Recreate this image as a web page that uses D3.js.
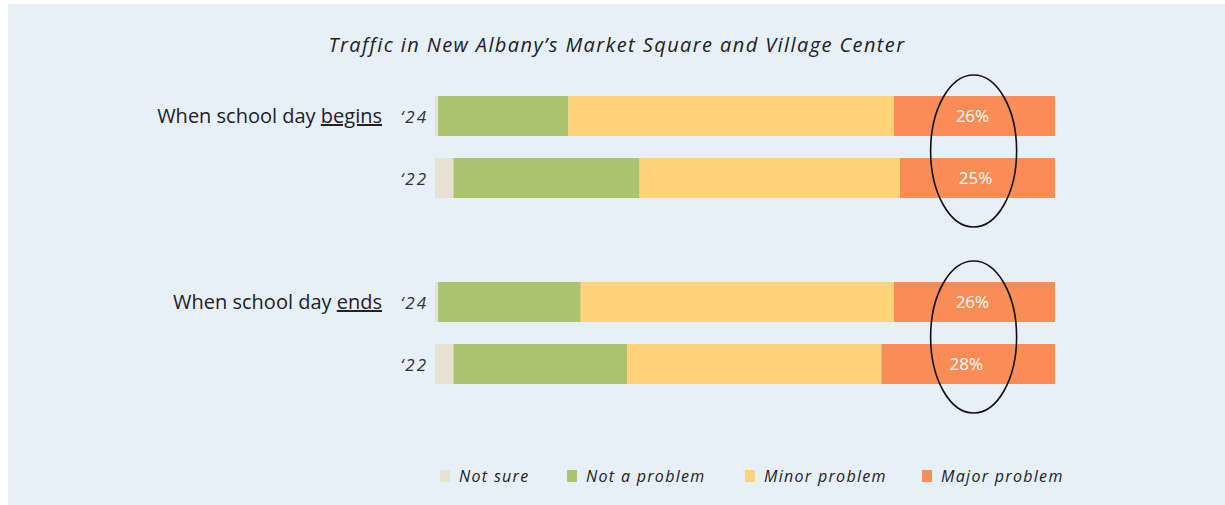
<!DOCTYPE html>
<html>
<head>
<meta charset="utf-8">
<script src="https://cdn.jsdelivr.net/npm/d3@7"></script>
<style>
  body { margin: 0; background: #ffffff; }
  #chart { width: 1225px; height: 505px; }
</style>
</head>
<body>
<div id="chart"></div>
<script>
// Javascript for the stacked traffic bars

// Data
var title = "Traffic in New Albany’s Market Square and Village Center";
var groupLabels = ["When school day ", "When school day "];
var groupWords = ["begins", "ends"];
var yearLabels = ["‘24", "‘22", "‘24", "‘22"];
var rowKeys = ["begins24", "begins22", "ends24", "ends22"];
var categories = ["Not sure", "Not a problem", "Minor problem", "Major problem"];
var notSure = [0.5, 3, 0.5, 3];
var notAProblem = [21, 30, 23, 28];
var minorProblem = [52.5, 42, 50.5, 41];
var majorProblem = [26, 25, 26, 28];

var colors = ["#e6e1d3", "#a9c46d", "#fed277", "#f98d55"];

var width = 1225;
var height = 505;

// build rows for d3.stack
var rows = rowKeys.map(function(k, i) {
  return {
    key: k,
    "Not sure": notSure[i],
    "Not a problem": notAProblem[i],
    "Minor problem": minorProblem[i],
    "Major problem": majorProblem[i]
  };
});

var svg = d3.select("#chart")
  .append("svg")
  .attr("width", width)
  .attr("height", height);

// light blue paper
svg.append("rect")
  .attr("x", 8)
  .attr("y", 4)
  .attr("width", width - 8)
  .attr("height", height - 4)
  .attr("fill", "#e7eff9");

// scales
var x_scale = d3.scaleLinear()
  .domain([0, 100])
  .range([435, 1055]);

// empty slot between the two groups
var y_scale = d3.scalePoint()
  .domain(["begins24", "begins22", "spacer", "ends24", "ends22"])
  .range([116, 364]);

var barHeight = 40;

var color = d3.scaleOrdinal()
  .domain(categories)
  .range(colors);

var stacked = d3.stack().keys(categories)(rows);

var handFont = "'Open Sans', sans-serif";

// Title
svg.append("text")
  .attr("x", 617)
  .attr("y", 52)
  .attr("text-anchor", "middle")
  .style("font-family", handFont)
  .style("font-style", "italic")
  .style("font-size", "20px")
  .style("letter-spacing", "1.4px")
  .style("fill", "#222")
  .text(title);

// Bars
svg.append("g")
  .selectAll("g")
  .data(stacked)
  .enter()
  .append("g")
  .attr("fill", function(d) { return color(d.key); })
  .selectAll("rect")
  .data(function(d) { return d; })
  .enter()
  .append("rect")
  .attr("x", function(d) { return x_scale(d[0]); })
  .attr("width", function(d) { return x_scale(d[1]) - x_scale(d[0]); })
  .attr("y", function(d) { return y_scale(d.data.key) - barHeight / 2; })
  .attr("height", barHeight);

// Major problem labels
var major = stacked[3];
svg.append("g")
  .selectAll("text")
  .data(major)
  .enter()
  .append("text")
  .attr("x", function(d) { return (x_scale(d[0]) + x_scale(d[1])) / 2 - 2; })
  .attr("y", function(d) { return y_scale(d.data.key) + 6; })
  .attr("text-anchor", "middle")
  .style("font-family", "'Open Sans', sans-serif")
  .style("font-size", "17px")
  .style("fill", "#ffffff")
  .text(function(d, i) { return majorProblem[i] + "%"; });

// Year labels
svg.append("g")
  .selectAll("text")
  .data(rowKeys)
  .enter()
  .append("text")
  .attr("x", 428)
  .attr("y", function(d) { return y_scale(d) + 7; })
  .attr("text-anchor", "end")
  .style("font-family", handFont)
  .style("font-style", "italic")
  .style("font-size", "17px")
  .style("letter-spacing", "2px")
  .style("fill", "#333")
  .text(function(d, i) { return yearLabels[i]; });

// Group labels with underlined word
var groupRows = ["begins24", "ends24"];
groupRows.forEach(function(k, i) {
  var t = svg.append("text")
    .attr("x", 382)
    .attr("y", y_scale(k) + 7)
    .attr("text-anchor", "end")
    .style("font-family", "'Open Sans', sans-serif")
    .style("font-size", "20px")
    .style("fill", "#222");
  t.append("tspan").text(groupLabels[i]);
  t.append("tspan")
    .style("text-decoration", "underline")
    .text(groupWords[i]);
});

// Hand drawn ovals round the major problem labels
var ovalX = d3.mean(major, function(d) { return (x_scale(d[0]) + x_scale(d[1])) / 2; });
[["begins24", "begins22"], ["ends24", "ends22"]].forEach(function(pair) {
  var cy = (y_scale(pair[0]) + y_scale(pair[1])) / 2 + 4;
  svg.append("ellipse")
    .attr("cx", ovalX)
    .attr("cy", cy)
    .attr("rx", 43)
    .attr("ry", 76)
    .attr("fill", "none")
    .attr("stroke", "#111")
    .attr("stroke-width", 1.6);
});

// Legend
var legendX = [440, 567, 745, 922];
var legend = svg.append("g")
  .selectAll("g")
  .data(categories)
  .enter()
  .append("g")
  .attr("transform", function(d, i) { return "translate(" + legendX[i] + ",476)"; });

legend.append("rect")
  .attr("x", 0)
  .attr("y", -6)
  .attr("width", 10)
  .attr("height", 12)
  .attr("fill", function(d) { return color(d); });

legend.append("text")
  .attr("x", 19)
  .attr("y", 6)
  .style("font-family", handFont)
  .style("font-style", "italic")
  .style("font-size", "16px")
  .style("letter-spacing", "1.3px")
  .style("fill", "#222")
  .text(function(d) { return d; });
</script>
</body>
</html>
